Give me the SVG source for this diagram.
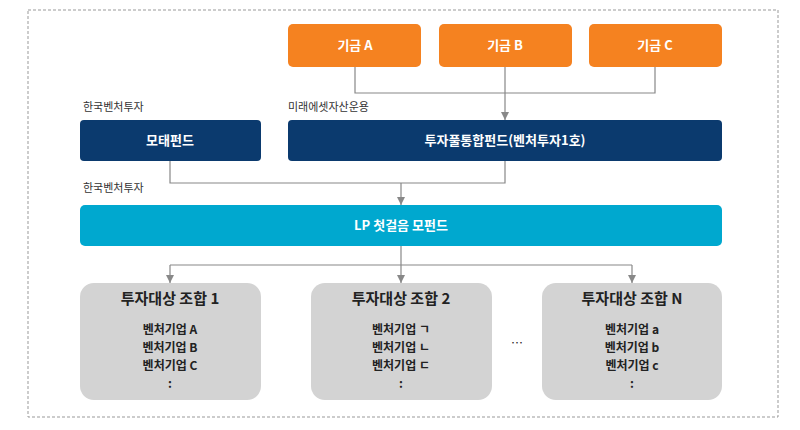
<svg xmlns="http://www.w3.org/2000/svg" width="800" height="430" viewBox="0 0 800 430">
<style>
text{font-family:"Noto Sans CJK KR","Liberation Sans",sans-serif;text-anchor:middle}
.o{fill:#f58220}.n{fill:#0b3a6e}.l{fill:#00a8cf}.g{fill:#d3d3d3}
.w{fill:#fff;font-size:13px;font-weight:bold}
.k{fill:#222;font-size:12px;font-weight:bold}
.t{fill:#222;font-size:15px;font-weight:bold}
.lab{fill:#333;font-size:11px;text-anchor:start}
.c{fill:none;stroke:#888;stroke-width:1.2}
</style>
<defs><marker id="a" markerWidth="8" markerHeight="8" refX="4" refY="7" orient="auto" markerUnits="userSpaceOnUse"><path d="M0,0 L8,0 L4,8Z" fill="#888" transform="rotate(-90 4 4)"/></marker>
<marker id="d" markerWidth="8" markerHeight="8" refX="8" refY="4" orient="auto" markerUnits="userSpaceOnUse"><path d="M0,0 L8,4 L0,8Z" fill="#888"/></marker></defs>
<rect x="28" y="10" width="750" height="407" fill="none" stroke="#999" stroke-dasharray="3,2"/>
<g id="connectors">
<path class="c" d="M355,67V93H655V67M505,67V120" marker-end="url(#d)"/>
<path class="c" d="M170,161V183H505V161M401,183V205" marker-end="url(#d)"/>
<path class="c" d="M401,246V265"/>
<path class="c" d="M170,265H632" />
<path class="c" d="M170,265V283" marker-end="url(#d)"/>
<path class="c" d="M401,265V283" marker-end="url(#d)"/>
<path class="c" d="M632,265V283" marker-end="url(#d)"/>
</g>
<g id="fundA"><rect class="o" x="288" y="24" width="133" height="43" rx="5"/><text class="w" x="355" y="50">기금 A</text></g>
<g id="fundB"><rect class="o" x="439" y="24" width="133" height="43" rx="5"/><text class="w" x="505" y="50">기금 B</text></g>
<g id="fundC"><rect class="o" x="589" y="24" width="133" height="43" rx="5"/><text class="w" x="655" y="50">기금 C</text></g>
<text class="lab" x="83" y="111">한국벤처투자</text>
<text class="lab" x="288" y="111">미래에셋자산운용</text>
<g id="mother"><rect class="n" x="80" y="120" width="181" height="41" rx="4"/><text class="w" x="170" y="145">모태펀드</text></g>
<g id="pool"><rect class="n" x="288" y="120" width="434" height="41" rx="4"/><text class="w" x="505" y="145">투자풀통합펀드(벤처투자1호)</text></g>
<text class="lab" x="83" y="192">한국벤처투자</text>
<g id="lp"><rect class="l" x="80" y="205" width="642" height="41" rx="5"/><text class="w" x="401" y="230">LP 첫걸음 모펀드</text></g>
<g id="u1"><rect class="g" x="80" y="283" width="181" height="117" rx="14"/><text class="t" x="170" y="304">투자대상 조합 1</text>
<text class="k" x="170" y="334">벤처기업 A</text><text class="k" x="170" y="352">벤처기업 B</text><text class="k" x="170" y="370">벤처기업 C</text><text class="k" x="170" y="388">:</text></g>
<g id="u2"><rect class="g" x="311" y="283" width="181" height="117" rx="14"/><text class="t" x="401" y="304">투자대상 조합 2</text>
<text class="k" x="401" y="334">벤처기업 ㄱ</text><text class="k" x="401" y="352">벤처기업 ㄴ</text><text class="k" x="401" y="370">벤처기업 ㄷ</text><text class="k" x="401" y="388">:</text></g>
<text class="k" x="517" y="348" style="font-weight:normal">…</text>
<g id="uN"><rect class="g" x="542" y="283" width="180" height="117" rx="14"/><text class="t" x="632" y="304">투자대상 조합 N</text>
<text class="k" x="632" y="334">벤처기업 a</text><text class="k" x="632" y="352">벤처기업 b</text><text class="k" x="632" y="370">벤처기업 c</text><text class="k" x="632" y="388">:</text></g>
</svg>
